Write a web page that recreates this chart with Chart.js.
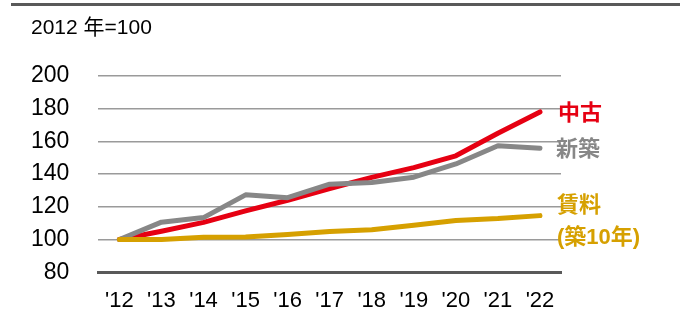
<!DOCTYPE html>
<html>
<head>
<meta charset="utf-8">
<script src="https://cdn.jsdelivr.net/npm/chart.js@4/dist/chart.umd.min.js"></script>
<style>
  html, body { margin: 0; padding: 0; background: #fff; }
  #wrap { position: relative; width: 680px; height: 315px; }
  #rule { position: absolute; left: 11px; top: 3px; width: 669px; height: 3px; background: #595959; }
</style>
</head>
<body>
<div id="wrap">
  <canvas id="chart" width="680" height="315"></canvas>
  <div id="rule"></div>
</div>
<script>
// 2012年=100 の指数
const years = ["'12", "'13", "'14", "'15", "'16", "'17", "'18", "'19", "'20", "'21", "'22"];
const usedPrice = [100, 105, 110.5, 117.5, 124, 131.2, 138, 144, 151.2, 165, 178];
const newPrice = [100, 110.6, 113.4, 127.3, 125.6, 133.8, 134.8, 138.1, 146.2, 157.3, 155.8];
const rent = [100, 100, 101.4, 101.6, 103, 104.9, 106, 108.7, 111.6, 112.8, 114.6];
const yTicks = [80, 100, 120, 140, 160, 180, 200];

const subtitle = '2012 年=100';
const RED = '#e60012', GRAY = '#878787', GOLD = '#d6a000';
const FONT = '"Liberation Sans", Arial, "Noto Sans CJK JP", sans-serif';

// 右端のラベルと左上の注記
const labelsPlugin = {
    id: 'labelsPlugin',
    afterDraw(chart) {
        const ctx = chart.ctx;
        const y = chart.scales.y;
        const x = chart.chartArea.right - 3;
        ctx.save();
        ctx.textBaseline = 'middle';
        ctx.textAlign = 'left';

        ctx.font = '21px ' + FONT;
        ctx.fillStyle = '#000';
        ctx.fillText(subtitle, 31, 28);

        ctx.font = 'bold 22px ' + FONT;
        ctx.fillStyle = RED;
        ctx.fillText('中古', x, y.getPixelForValue(usedPrice[usedPrice.length - 1]) + 2);
        ctx.fillStyle = GRAY;
        ctx.fillText('新築', x - 2, y.getPixelForValue(newPrice[newPrice.length - 1]) + 2);
        const ry = y.getPixelForValue(rent[rent.length - 1]);
        ctx.fillStyle = GOLD;
        ctx.fillText('賃料', x - 1, ry - 10);
        ctx.fillText('(築10年)', x - 1, ry + 22);
        ctx.restore();
    }
};

new Chart(document.getElementById('chart'), {
    type: 'line',
    data: {
        labels: years,
        datasets: [
            {label: '中古', data: usedPrice, borderColor: RED, order: 3},
            {label: '新築', data: newPrice, borderColor: GRAY, order: 2},
            {label: '賃料', data: rent, borderColor: GOLD, order: 1}
        ].map(d => Object.assign(d, {
            borderWidth: 5,
            pointRadius: 0,
            tension: 0,
            fill: false,
            borderCapStyle: 'round',
            borderJoinStyle: 'round'
        }))
    },
    options: {
        responsive: false,
        animation: false,
        layout: {padding: {top: 76, left: 2, right: 119, bottom: 0}},
        plugins: {legend: {display: false}, tooltip: {enabled: false}},
        scales: {
            x: {
                offset: true,
                afterFit: axis => { axis.height = 42; },
                grid: {display: false, drawTicks: false},
                border: {display: true, color: '#595959', width: 3},
                ticks: {color: '#000', padding: 16, font: {family: FONT, size: 22}, maxRotation: 0}
            },
            y: {
                min: 80,
                max: 200,
                afterBuildTicks: axis => { axis.ticks = yTicks.map(v => ({value: v})); },
                grid: {color: '#9a9a9a', lineWidth: 1.5, drawTicks: false},
                border: {display: false},
                ticks: {color: '#000', padding: 29, font: {family: FONT, size: 23}}
            }
        }
    },
    plugins: [labelsPlugin]
});
</script>
</body>
</html>
